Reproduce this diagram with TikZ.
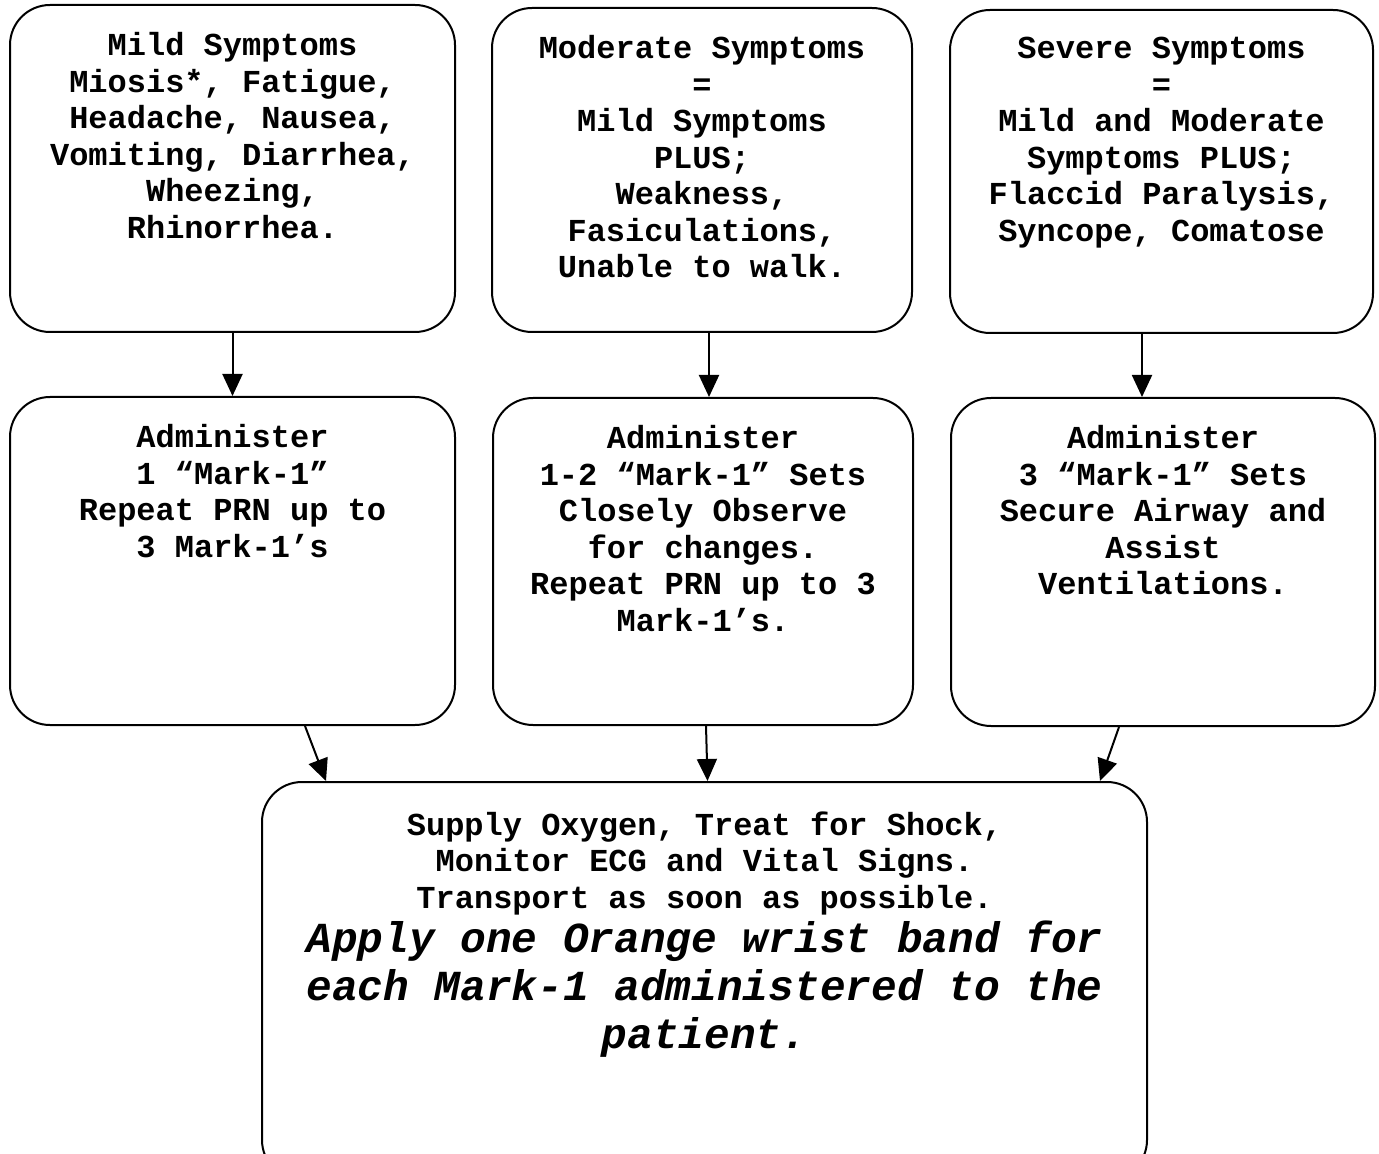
\documentclass[tikz,border=0pt]{standalone}
\usepackage{fontspec}
\setmonofont{Liberation Mono}
\usetikzlibrary{arrows.meta}
\begin{document}
\begin{tikzpicture}[x=0.5pt,y=-0.5pt,
 box/.style={draw,line width=1pt,rounded corners=20pt,inner sep=0pt},
 txt/.style={font=\ttfamily\bfseries\fontsize{16}{18.25}\selectfont,align=center,inner sep=0pt,anchor=north},
 itxt/.style={font=\ttfamily\bfseries\itshape\fontsize{21.4}{24}\selectfont,align=center,inner sep=0pt,anchor=north},
 arr/.style={line width=1pt,-{Triangle[length=11pt,width=10pt]}}]
\useasboundingbox (0,0) rectangle (1379,1154);
\clip (0,0) rectangle (1379,1154);
% boxes
\node[box,minimum width=222.5pt,minimum height=163.5pt] (b1) at (232.5,168.5) {};
\node[box,minimum width=210pt,minimum height=162pt] (b2) at (702,170) {};
\node[box,minimum width=211.5pt,minimum height=161.5pt] (b3) at (1161.5,171.5) {};
\node[box,minimum width=222.5pt,minimum height=164pt] (b4) at (232.5,561) {};
\node[box,minimum width=210pt,minimum height=163.5pt] (b5) at (703,561.5) {};
\node[box,minimum width=212pt,minimum height=164pt] (b6) at (1163,562) {};
\node[box,minimum width=442.5pt,minimum height=199pt] (b7) at (704.5,981) {};
% texts
\node[txt] (t1) at ([yshift=-14pt]b1.north) {Mild Symptoms\\Miosis*, Fatigue,\\Headache, Nausea,\\Vomiting, Diarrhea,\\Wheezing,\\Rhinorrhea.};
\node[txt] (t2) at ([yshift=-14pt]b2.north) {Moderate Symptoms\\=\\Mild Symptoms\\PLUS;\\Weakness,\\Fasiculations,\\Unable to walk.};
\node[txt] (t3) at ([yshift=-14pt]b3.north) {Severe Symptoms\\=\\Mild and Moderate\\Symptoms PLUS;\\Flaccid Paralysis,\\Syncope, Comatose};
\node[txt] (t4) at ([yshift=-14pt]b4.north) {Administer\\1 “Mark-1”\\Repeat PRN up to\\3 Mark-1’s};
\node[txt] (t5) at ([yshift=-14pt]b5.north) {Administer\\1-2 “Mark-1” Sets\\Closely Observe\\for changes.\\Repeat PRN up to 3\\Mark-1’s.};
\node[txt] (t6) at ([yshift=-14pt]b6.north) {Administer\\3 “Mark-1” Sets\\Secure Airway and\\Assist\\Ventilations.};
\node[txt] (t7) at ([yshift=-15pt]b7.north) {Supply Oxygen, Treat for Shock,\\Monitor ECG and Vital Signs.\\Transport as soon as possible.};
\node[itxt] (t8) at ([yshift=-69.5pt]b7.north) {Apply one Orange wrist band for\\each Mark-1 administered to the\\patient.};
% connectors
\draw[arr] (b1.south) -- (b4.north);
\draw[arr] ([xshift=3.5pt]b2.south) -- ([xshift=3.5pt]b2.south |- b5.north);
\draw[arr] ([xshift=-9.75pt]b3.south) -- ([xshift=-9.75pt]b3.south |- b6.north);
\draw[arr] ([xshift=36.25pt]b4.south) -- ([xshift=-189.25pt]b7.north);
\draw[arr] ([xshift=1.5pt]b5.south) -- ([xshift=1.5pt]b7.north);
\draw[arr] ([xshift=-22pt]b6.south) -- ([xshift=197.75pt]b7.north);
\end{tikzpicture}
\end{document}
